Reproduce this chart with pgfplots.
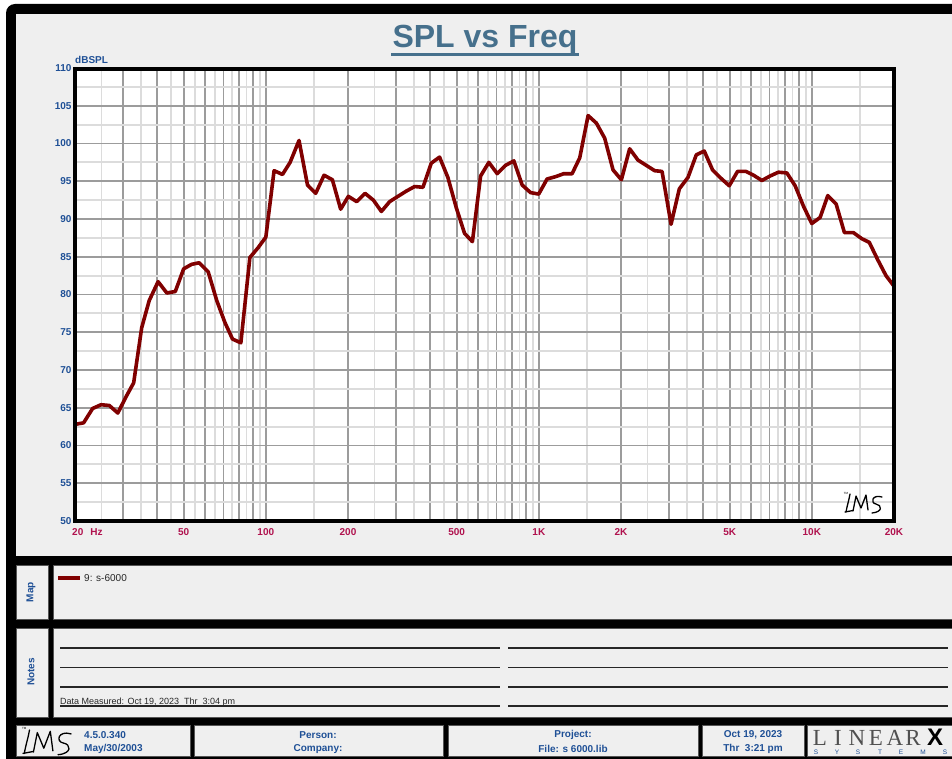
\documentclass[border=0pt]{standalone}
\usepackage{fontspec}
\setmainfont{Liberation Sans}
\newfontfamily\lxserif{Liberation Serif}
\usepackage{pgfplots}
\pgfplotsset{compat=1.18}
\definecolor{plotred}{HTML}{800000}
\definecolor{pagegray}{HTML}{EFEFEF}
\definecolor{gridmajor}{HTML}{9C9C9C}
\definecolor{gridminor}{HTML}{DCDCDC}
\definecolor{ylab}{HTML}{1F5096}
\definecolor{xlab}{HTML}{B0124E}
\definecolor{titleblue}{HTML}{46708C}
\definecolor{lxgray}{HTML}{505050}
\definecolor{cellborder}{HTML}{555555}
\newcommand\lmslogo{%
  \draw[line width=1.3pt, line cap=round, line join=round] (5,0) .. controls (4,6) and (2,12) .. (1,18);
  \draw[line width=1.3pt, line cap=round, line join=round] (0,18) -- (8,16.5);
  \draw[line width=1.3pt, line cap=round, line join=round] (8,17) -- (11,2) -- (16,14) -- (21,1) -- (23,16);
  \draw[line width=1.3pt, line cap=round, line join=round] (37,3) .. controls (27,0) and (25,9) .. (31,10) .. controls (37,11) and (38,18) .. (27,19);
  \node[font=\fontsize{3}{3}\selectfont, inner sep=0pt] at (1,-1) {TM};
}
\begin{document}
\begin{tikzpicture}
\useasboundingbox (0,0) rectangle (952pt,-759pt);
\begin{scope}[x=1pt,y=-1pt]
\fill[white] (0,0) rectangle (952,759);
\fill[black, rounded corners=9pt] (6,4) rectangle (990,800);
\fill[pagegray] (16,14) rectangle (952,556);
\fill[pagegray, draw=cellborder, line width=0.8pt] (16,565) rectangle (48,619);
\fill[pagegray, draw=cellborder, line width=0.8pt] (53,565) rectangle (953,619);
\fill[pagegray, draw=cellborder, line width=0.8pt] (16,628) rectangle (48,717);
\fill[pagegray, draw=cellborder, line width=0.8pt] (53,628) rectangle (953,717);
\foreach \a/\b in {16/190, 194/443, 448/698, 702/804, 807/953}
  \fill[pagegray, draw=cellborder, line width=0.8pt] (\a,725) rectangle (\b,756);
% title
\node[font=\fontsize{32}{32}\selectfont\bfseries, text=titleblue, anchor=base, inner sep=0pt] at (485,48) {SPL vs Freq};
\draw[titleblue, line width=3pt] (391,54.5) -- (579,54.5);
\node[font=\fontsize{10}{10}\selectfont\bfseries, text=ylab, anchor=west, inner sep=0pt] at (75,60) {dBSPL};
\end{scope}

\begin{axis}[
  at={(75pt,-521pt)}, anchor=south west,
  scale only axis, width=819pt, height=453pt,
  xmode=log, log basis x=10,
  xmin=20, xmax=20000, ymin=50, ymax=110,
  axis line style={draw=none},
  axis background/.style={fill=white},
  /pgf/number format/assume math mode=true,
  xtick={20,30,40,50,60,70,80,90,100,200,300,400,500,600,700,800,900,1000,2000,3000,4000,5000,6000,7000,8000,9000,10000,20000},
  xticklabels={,,,50,,,,,100,200,,,500,,,,,1K,2K,,,5K,,,,,10K,20K},
  minor xtick={25,35,45,55,65,75,85,95,150,250,350,450,550,650,750,850,950,1500,2500,3500,4500,5500,6500,7500,8500,9500,15000},
  ytick={50,55,...,110},
  minor ytick={52.5,57.5,...,107.5},
  major tick length=0pt, minor tick length=0pt,
  grid=both,
  major grid style={gridmajor, line width=1.8pt},
  minor grid style={gridminor, line width=1.8pt},
  xticklabel style={font=\fontsize{10}{10}\selectfont\bfseries, text=xlab, anchor=north, text height=7.3pt, text depth=0pt, inner sep=0pt, yshift=-7pt},
  yticklabel style={font=\fontsize{10}{10}\selectfont\bfseries, text=ylab},
]
\addplot[plotred, line width=3.6pt, line join=round, line cap=round] coordinates {
(20,62.8) (21.5,63.0) (23.2,64.9) (24.9,65.4) (26.7,65.3) (28.7,64.3)
(30.7,66.4) (32.8,68.3) (35.1,75.6) (37.4,79.2) (40.3,81.7) (43.4,80.2)
(46.6,80.4) (50.0,83.4) (53.5,84.0) (57.0,84.2) (61.5,83.0) (66.1,79.2)
(70.8,76.3) (75.5,74.1) (81.0,73.6) (87.4,84.9) (93.7,86.2) (100,87.6)
(107.2,96.4) (115.1,95.9) (122.7,97.5) (132.3,100.4) (142.1,94.5) (152.3,93.4)
(163.4,95.8) (175.3,95.2) (188,91.3) (200.6,93.0) (215.2,92.3) (230.8,93.4)
(247.7,92.5) (265,91.0) (284.2,92.3) (304.8,93.0) (327.2,93.7) (350.8,94.3)
(376.3,94.2) (403.7,97.4) (432.9,98.2) (464.3,95.5) (498.4,91.5) (534.4,88.1)
(571,87.0) (612,95.7) (656,97.5) (704,96.0) (755,97.1) (810,97.7)
(869,94.5) (932,93.5) (999,93.3) (1072,95.3) (1150,95.6) (1234,96.0)
(1324,96.0) (1412,98.1) (1515,103.7) (1625,102.7) (1743,100.7) (1870,96.5)
(2006,95.2) (2151,99.3) (2308,97.8) (2476,97.1) (2656,96.4) (2827,96.3)
(3050,89.3) (3271,94.0) (3518,95.5) (3774,98.5) (4036,99.0) (4329,96.5)
(4645,95.4) (4983,94.4) (5343,96.3) (5735,96.3) (6115,95.8) (6561,95.1)
(7038,95.7) (7547,96.2) (8101,96.1) (8687,94.4) (9318,91.7) (9995,89.4)
(10723,90.2) (11440,93.1) (12271,92.0) (13162,88.2) (14196,88.2) (15232,87.4)
(16241,86.9) (17433,84.6) (18695,82.5) (20000,81.1)
};
\end{axis}

\begin{scope}[x=1pt,y=-1pt]
\draw[black, line width=4pt, line join=miter] (75,69) rectangle (894,521);
\node[font=\fontsize{10}{10}\selectfont\bfseries, text=xlab, anchor=north west, text height=7.3pt, text depth=0pt, inner sep=0pt] at (72,528) {20\hspace{7pt}Hz};
% LMS logo in plot
\begin{scope}[shift={(845,494)}]
\lmslogo
\end{scope}
% map
\draw[plotred, line width=4pt] (58,578) -- (80,578);
\node[font=\fontsize{10}{10}\selectfont, text=black!85, anchor=west, inner sep=0pt] at (84,578) {9: s-6000};
\node[font=\fontsize{10}{10}\selectfont\bfseries, text=ylab, rotate=90, inner sep=0pt] at (31,592) {Map};
\node[font=\fontsize{10}{10}\selectfont\bfseries, text=ylab, rotate=90, inner sep=0pt] at (31,672) {Notes};
% notes lines
\foreach \y in {648,667.5,687,706} {
  \draw[black!85, line width=1.6pt] (60,\y) -- (500,\y);
  \draw[black!85, line width=1.6pt] (508,\y) -- (948,\y);
}
\node[font=\fontsize{9}{9}\selectfont, text=black!85, anchor=base west, inner sep=0pt] at (60,704) {Data Measured: Oct 19, 2023\ \ Thr\ \ 3:04 pm};
% footer
\begin{scope}[shift={(23,730)}, scale=1.3]
\lmslogo
\end{scope}
\node[font=\fontsize{10}{10}\selectfont\bfseries, text=ylab, anchor=west, inner sep=0pt] at (84,735) {4.5.0.340};
\node[font=\fontsize{10}{10}\selectfont\bfseries, text=ylab, anchor=west, inner sep=0pt] at (84,749) {May/30/2003};
\node[font=\fontsize{10}{10}\selectfont\bfseries, text=ylab, inner sep=0pt] at (318,735) {Person:};
\node[font=\fontsize{10}{10}\selectfont\bfseries, text=ylab, inner sep=0pt] at (318,749) {Company:};
\node[font=\fontsize{10}{10}\selectfont\bfseries, text=ylab, inner sep=0pt] at (573,735) {Project:};
\node[font=\fontsize{10}{10}\selectfont\bfseries, text=ylab, inner sep=0pt] at (573,749) {File: s 6000.lib};
\node[font=\fontsize{10}{10}\selectfont\bfseries, text=ylab, inner sep=0pt] at (753,735) {Oct 19, 2023};
\node[font=\fontsize{10}{10}\selectfont\bfseries, text=ylab, inner sep=0pt] at (753,749) {Thr\ \ 3:21 pm};
% LINEARX logo
\foreach \c/\x in {L/820,I/838,N/857,E/876,A/895,R/913}
  \node[font=\lxserif\fontsize{23}{23}\selectfont, text=lxgray, anchor=base, inner sep=0pt] at (\x,745) {\c};
\node[font=\fontsize{24}{24}\selectfont\bfseries, text=black, anchor=base, inner sep=0pt] at (935,745) {X};
\foreach \c/\x in {S/816,Y/837,S/858,T/880,E/901,M/923,S/945}
  \node[font=\fontsize{6.5}{6.5}\selectfont, text=ylab, inner sep=0pt] at (\x,752) {\c};
\end{scope}
\end{tikzpicture}
\end{document}
